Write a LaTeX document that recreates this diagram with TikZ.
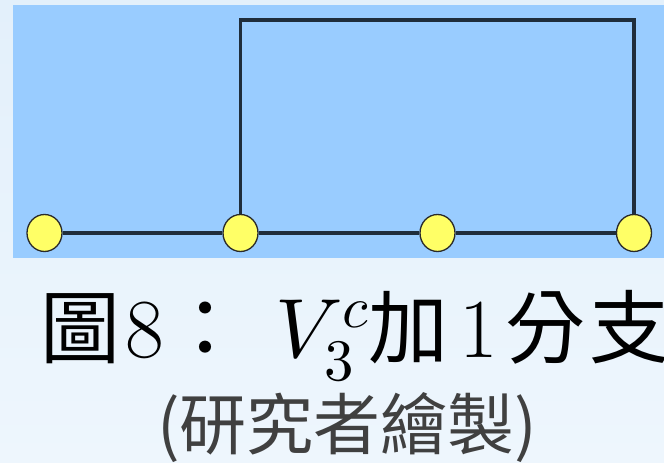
\documentclass[tikz,border=0pt]{standalone}
\usepackage{fontspec}
\usepackage{unicode-math}
\usetikzlibrary{shapes.geometric}
\newfontfamily\cjk{Noto Sans CJK TC}
\definecolor{bgtop}{HTML}{E3F0FB}
\definecolor{bgbot}{HTML}{EEF6FD}
\definecolor{panel}{HTML}{99CCFF}
\definecolor{edgecol}{HTML}{1F2D3B}
\definecolor{vtxfill}{HTML}{FFFF66}
\definecolor{vtxborder}{HTML}{2A2A2A}
\definecolor{subtxt}{HTML}{404040}
\begin{document}
\begin{tikzpicture}[x=1pt,y=1pt,
  vtx/.style={ellipse, draw=vtxborder, fill=vtxfill, line width=1.3pt, minimum width=35pt, minimum height=37pt, inner sep=0pt},
  hedge/.style={draw=edgecol, line width=4.5pt},
  vedge/.style={draw=edgecol, line width=3.5pt},
  cjkch/.style={anchor=base, inner sep=0pt, text=black, font=\fontsize{80}{96}\selectfont\cjk},
  latch/.style={anchor=base, inner sep=0pt, text=black, font=\fontsize{84}{100}\selectfont},
  subcap/.style={anchor=base west, inner sep=0pt, text=subtxt, font=\fontsize{67}{80}\selectfont\cjk}]
\useasboundingbox (0,0) rectangle (664,463);
\clip (0,0) rectangle (664,463);
\shade[top color=bgtop, bottom color=bgbot] (0,0) rectangle (664,463);
\fill[panel] (13,205) rectangle (670,458);
\node[vtx] (a) at (44.5,230) {};
\node[vtx] (b) at (240.5,230) {};
\node[vtx] (c) at (437.5,230) {};
\node[vtx] (d) at (634,230) {};
\coordinate (tl) at (240.5,443);
\coordinate (tr) at (634,443);
\draw[hedge] (a) -- (b);
\draw[hedge] (b) -- (c);
\draw[hedge] (c) -- (d);
\draw[vedge] (b) -- (tl) -- (tr) -- (d);
% caption line 1
\node[cjkch] (t1) at (80,105) {圖};
\node[latch] (t2) at (144.5,105) {8};
\node[cjkch] (t3) at (205,105) {：};
\node[latch, anchor=base west] (t4) at (275,105) {$V_3^c$};
\node[cjkch] (t5) at (408,105) {加};
\node[latch] (t6) at (478.5,105) {1};
\node[cjkch] (t7) at (545,105) {分};
\node[cjkch] (t8) at (629,105) {支};
% caption line 2
\node[subcap] (src) at (157,13) {(研究者繪製)};
\end{tikzpicture}
\end{document}
